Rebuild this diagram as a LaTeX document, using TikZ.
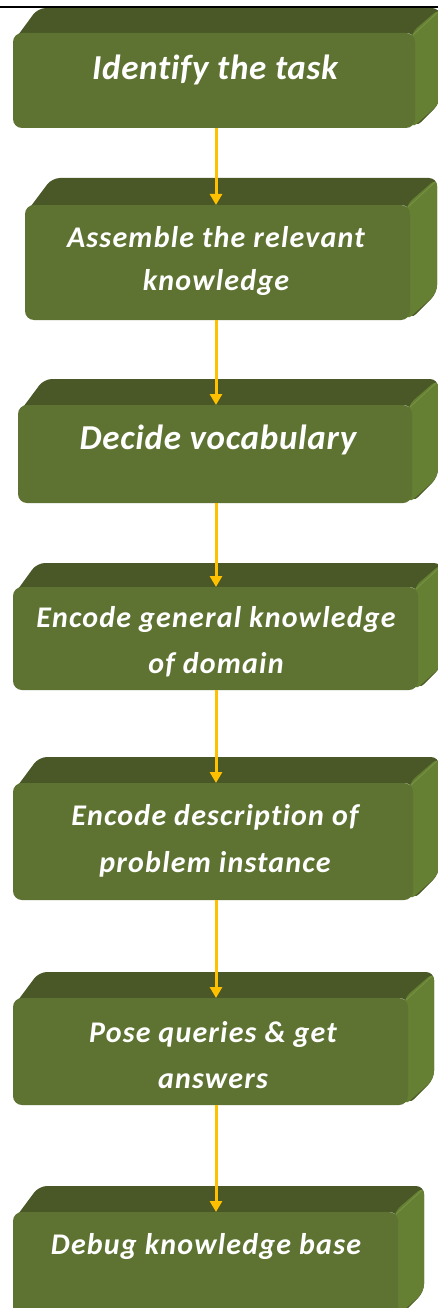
\documentclass[tikz,border=0pt]{standalone}
\usepackage{fontspec}
\setmainfont{Carlito}[Ligatures=NoCommon]
\newfontfamily\bigspaced{Carlito}[LetterSpace=2, Ligatures=NoCommon]
\newfontfamily\smallspaced{Carlito}[LetterSpace=4, Ligatures=NoCommon]
\usetikzlibrary{arrows.meta,calc}
\pgfdeclarelayer{paper}
\pgfdeclarelayer{background}
\pgfsetlayers{paper,background,main}

\definecolor{frontgreen}{RGB}{94,115,50}
\definecolor{topgreen}{RGB}{73,88,38}
\definecolor{sidegreen}{RGB}{101,127,51}
\definecolor{edgegreen}{RGB}{118,145,66}
\definecolor{arrowgold}{RGB}{255,192,0}

\tikzset{
  frontface/.style={fill=frontgreen, rounded corners=9pt, inner sep=0pt, outer sep=0pt},
  topface/.style={fill=topgreen, rounded corners=8pt},
  sideface/.style={fill=sidegreen, rounded corners=8pt},
  biglbl/.style={text=white, inner sep=0pt, anchor=base,
    font=\bigspaced\bfseries\itshape\fontsize{35}{35}\selectfont},
  lbl/.style={text=white, inner sep=0pt, anchor=base,
    font=\smallspaced\bfseries\itshape\fontsize{30}{30}\selectfont},
  flow/.style={draw=arrowgold, line width=3pt,
    -{Triangle[width=12pt,length=11pt]}},
}

% #1 name, #2 left, #3 top, #4 right, #5 bottom, #6 depth of the block
\newcommand\cubeblock[6]{%
  \node[frontface, minimum width={#4-#2}, minimum height={#5-#3}]
    (#1) at ({(#2+#4)/2},{(#3+#5)/2}) {};
  \begin{pgfonlayer}{background}
    \fill[topface] (#2,#3+9) -- (#2+#6,#3-#6) -- (#4+#6,#3-#6)
      -- (#4+#6,#5-#6) -- (#4,#5) -- (#4,#3) -- cycle;
    \fill[sideface] (#4-4,#3) -- (#4+#6,#3-#6) -- (#4+#6,#5-#6)
      -- (#4-4,#5+1) -- cycle;
    \draw[edgegreen, line width=1pt] (#4-2,#3+2) -- (#4+#6-2,#3-#6+4);
  \end{pgfonlayer}
}

\begin{document}
\begin{tikzpicture}[x=1pt, y=-1pt]
  \useasboundingbox (0,0) rectangle (438,1308);
  \begin{pgfonlayer}{paper}
    \fill[white] (0,0) rectangle (438,1308);
  \end{pgfonlayer}

  % rule across the top
  \draw[black, line width=2pt] (0,7) -- (438,7);

  % the seven blocks
  \cubeblock{b1}{13}{33}{415}{128}{25}
  \cubeblock{b2}{25}{205}{410}{320}{27}
  \cubeblock{b3}{18}{405}{412}{503}{26}
  \cubeblock{b4}{13}{587}{418}{690}{24}
  \cubeblock{b5}{13}{783}{413}{900}{26}
  \cubeblock{b6}{13}{998}{408}{1105}{26}
  \cubeblock{b7}{13}{1212}{398}{1318}{26}

  % labels
  \node[biglbl] (t1)  at (215,80)   {Identify the task};
  \node[lbl]    (t2a) at (216,247)  {Assemble the relevant};
  \node[lbl]    (t2b) at (216,290)  {knowledge};
  \node[biglbl] (t3)  at (218,449)  {Decide vocabulary};
  \node[lbl]    (t4a) at (216,627)  {Encode general knowledge};
  \node[lbl]    (t4b) at (216,673)  {of domain};
  \node[lbl]    (t5a) at (215,825)  {Encode description of};
  \node[lbl]    (t5b) at (215,872)  {problem instance};
  \node[lbl]    (t6a) at (213,1042) {Pose queries \& get};
  \node[lbl]    (t6b) at (213,1088) {answers};
  \node[lbl]    (t7)  at (206,1254) {Debug knowledge base};

  % connectors
  \coordinate (axis) at (216,0);
  \draw[flow] (b1.south -| axis) -- (b2.north -| axis);
  \draw[flow] (b2.south -| axis) -- (b3.north -| axis);
  \draw[flow] (b3.south -| axis) -- (b4.north -| axis);
  \draw[flow] (b4.south -| axis) -- (b5.north -| axis);
  \draw[flow] (b5.south -| axis) -- (b6.north -| axis);
  \draw[flow] (b6.south -| axis) -- (b7.north -| axis);
\end{tikzpicture}
\end{document}
